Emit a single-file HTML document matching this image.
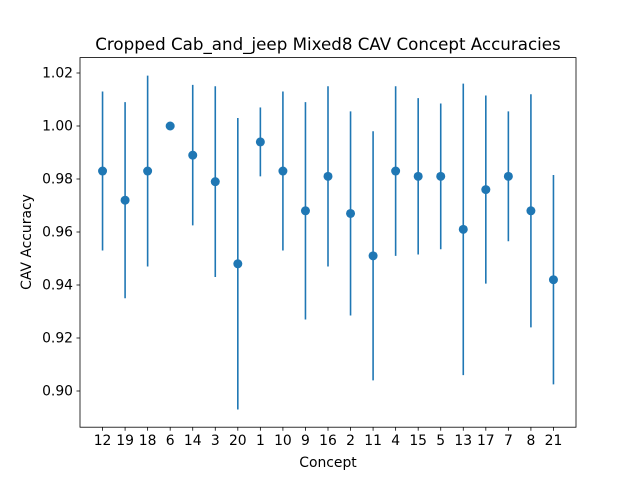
<!DOCTYPE html>
<html><head><meta charset="utf-8"><style>
html,body{margin:0;padding:0;background:#fff;}
svg{display:block;font-family:"DejaVu Sans","Liberation Sans",sans-serif;}
</style></head><body>
<svg id="chart" width="640" height="480" viewBox="0 0 640 480" xmlns="http://www.w3.org/2000/svg">
<rect width="640" height="480" fill="#fff"/>
<text x="328" y="50" font-size="16.7" text-anchor="middle" fill="#000">Cropped Cab_and_jeep Mixed8 CAV Concept Accuracies</text>
<g id="marks"></g>
<rect x="80" y="57.6" width="496" height="369.6" fill="none" stroke="#000" stroke-width="0.8"/>
<text x="328" y="467" font-size="13.9" text-anchor="middle">Concept</text>
<text transform="translate(31,242) rotate(-90)" font-size="13.9" text-anchor="middle">CAV Accuracy</text>
</svg>
<script>
const categories = ["12","19","18","6","14","3","20","1","10","9","16","2","11","4","15","5","13","17","7","8","21"];
const means = [0.983,0.972,0.983,1.0,0.989,0.979,0.948,0.994,0.983,0.968,0.981,0.967,0.951,0.983,0.981,0.981,0.961,0.976,0.981,0.968,0.942];
const errors = [0.030,0.037,0.036,0,0.0265,0.036,0.055,0.013,0.030,0.041,0.034,0.0385,0.047,0.032,0.0295,0.0275,0.055,0.0355,0.0245,0.044,0.0395];
const yTicks = [0.90,0.92,0.94,0.96,0.98,1.00,1.02];

const NS = "http://www.w3.org/2000/svg";
const L=80,R=576,T=57.6,B=427.2;
const xMin=-1, xMax=categories.length;
const yMin=0.88634, yMax=1.02581;
function xs(i){return L+(i-xMin)/(xMax-xMin)*(R-L);}
function ys(v){return B-(v-yMin)/(yMax-yMin)*(B-T);}
const svg=document.getElementById('chart');
const g=document.getElementById('marks');
function mk(tag,attrs,parent){const e=document.createElementNS(NS,tag);for(const k in attrs)e.setAttribute(k,attrs[k]);(parent||g).appendChild(e);return e;}

yTicks.forEach(v=>{
  const y=ys(v);
  const t=mk('line',{x1:L-3.5,x2:L,y1:y,y2:y,stroke:'#000','stroke-width':0.8},svg);
  
  
  const tx=mk('text',{x:L-7,y:y+4.5,'font-size':13.9,'text-anchor':'end'},svg);
  tx.textContent=v.toFixed(2);
  
  
});
categories.forEach((c,i)=>{
  const x=xs(i);
  const t=mk('line',{x1:x,x2:x,y1:B,y2:B+3.5,stroke:'#000','stroke-width':0.8},svg);
  
  
  const tx=mk('text',{x:x,y:B+18,'font-size':13.9,'text-anchor':'middle'},svg);
  tx.textContent=c;
  
  
  const eb=mk('line',{x1:x,x2:x,y1:ys(means[i]-errors[i]),y2:ys(means[i]+errors[i]),stroke:'#1f77b4','stroke-width':1.6});
  
  
  const p=mk('circle',{cx:x,cy:ys(means[i]),r:4.5,fill:'#1f77b4'});
  
  
});
</script>
</body></html>
